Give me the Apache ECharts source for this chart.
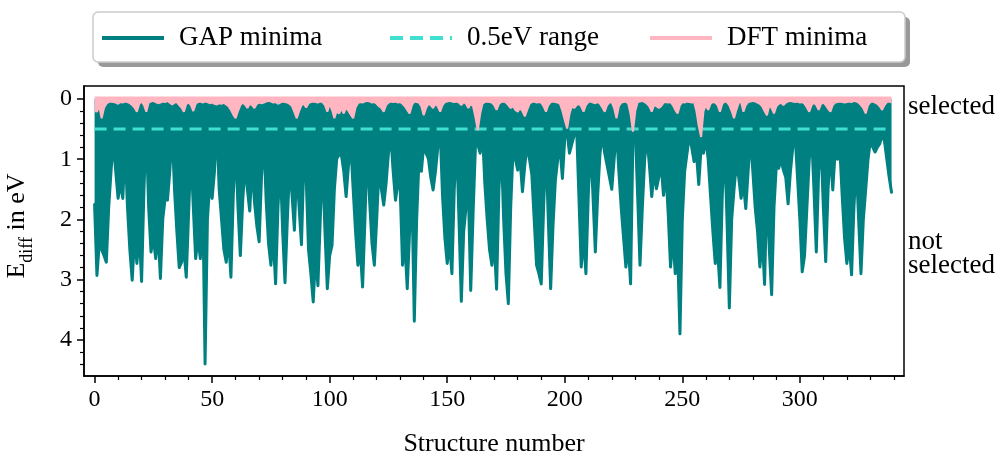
<!DOCTYPE html>
<html>
<head>
<meta charset="utf-8">
<script src="https://cdn.jsdelivr.net/npm/echarts@6/dist/echarts.min.js"></script>
<style>
html,body{margin:0;padding:0;background:#fff;}
#chart{width:1003px;height:454px;}
</style>
</head>
<body>
<div id="chart"></div>
<script>
// ---- data ----
const gapMinima = [
1.75,2.93,2.40,2.50,2.60,2.71,1.80,1.20,0.70,1.20,
1.65,1.40,1.65,0.80,1.80,2.50,3.01,2.30,2.73,2.20,
3.03,1.50,0.49,1.80,2.54,2.30,2.65,2.20,2.98,2.00,
1.65,1.68,1.20,0.52,1.50,2.20,2.80,2.71,2.50,2.96,
1.90,0.88,1.80,2.65,2.30,2.65,1.60,4.40,2.00,1.40,
1.65,1.20,0.40,1.50,2.00,2.50,2.71,2.30,2.96,1.60,
0.74,1.80,2.60,1.70,1.10,1.50,1.86,1.10,1.70,2.10,
2.37,1.30,0.63,1.70,2.40,2.76,2.30,3.07,1.80,1.07,
2.20,3.05,2.00,1.10,1.60,2.18,1.10,1.80,2.42,1.07,
1.30,2.50,2.90,3.37,2.60,3.10,2.00,1.00,2.20,3.15,
2.60,2.43,1.50,0.99,0.93,0.93,1.20,1.62,1.10,0.77,
1.50,2.20,2.76,2.50,3.12,2.00,0.79,1.70,2.40,2.76,
2.00,1.15,1.50,1.76,1.40,0.90,0.60,1.20,1.68,1.40,
1.50,2.76,2.40,3.15,2.20,1.54,3.69,2.00,1.00,1.20,
0.77,0.90,0.99,1.30,1.51,1.20,0.80,0.52,1.60,2.30,
2.73,2.40,2.90,1.50,0.68,2.00,3.36,2.20,1.80,1.54,
3.18,1.90,0.79,0.75,0.90,0.54,1.40,2.00,2.50,2.76,
2.40,3.16,1.50,0.77,2.00,2.90,3.40,1.80,0.85,1.00,
1.18,1.00,1.54,1.10,0.77,1.00,1.26,2.00,2.76,2.90,
3.07,1.80,0.77,2.00,3.15,2.10,1.35,1.00,0.82,1.32,
0.65,0.55,0.90,0.75,0.60,0.43,1.60,2.79,2.30,2.90,
1.60,0.74,1.60,2.54,1.60,0.90,0.60,0.90,1.10,1.30,
1.50,1.00,0.49,1.20,1.80,2.30,2.79,2.40,3.07,0.60,
0.50,1.60,2.76,1.80,1.00,0.63,1.10,1.62,1.20,1.49,
1.30,1.10,1.60,1.20,1.90,2.79,2.30,2.90,2.50,3.90,
2.00,1.20,0.90,0.60,0.80,1.04,0.90,1.42,0.80,0.90,
0.65,1.00,1.60,2.20,2.73,2.50,3.13,1.60,0.74,2.00,
3.47,2.00,1.50,1.07,1.30,1.65,1.40,1.82,1.20,0.63,
1.20,1.80,2.20,2.79,2.30,3.08,1.43,2.50,3.25,1.80,
1.10,1.15,1.00,1.18,1.30,1.74,1.20,0.80,0.60,1.30,
2.00,2.87,2.60,1.80,1.00,0.60,1.50,2.54,1.20,0.75,
1.80,2.70,1.50,0.85,1.51,0.88,1.00,0.82,1.60,2.30,
2.73,2.40,2.92,1.80,1.07,2.00,2.90,2.00,1.51,1.00,
0.68,0.80,0.88,0.80,0.74,0.60,0.70,1.00,1.30,1.55
];
const dftMinima = [
0.20,0.21,0.12,0.32,0.15,0.08,0.05,0.04,0.05,0.06,
0.08,0.05,0.06,0.04,0.05,0.07,0.10,0.14,0.21,0.08,
0.04,0.10,0.21,0.06,0.04,0.03,0.05,0.07,0.06,0.04,
0.05,0.03,0.06,0.09,0.06,0.05,0.10,0.14,0.21,0.08,
0.06,0.10,0.20,0.08,0.05,0.04,0.06,0.04,0.05,0.07,
0.06,0.08,0.09,0.07,0.08,0.06,0.09,0.12,0.18,0.26,
0.32,0.20,0.10,0.06,0.09,0.15,0.08,0.10,0.15,0.08,
0.06,0.07,0.06,0.04,0.03,0.04,0.06,0.05,0.08,0.06,
0.04,0.05,0.06,0.08,0.12,0.22,0.32,0.20,0.10,0.08,
0.14,0.07,0.05,0.04,0.05,0.06,0.04,0.05,0.10,0.21,
0.08,0.18,0.32,0.20,0.24,0.16,0.24,0.14,0.20,0.26,
0.32,0.14,0.07,0.05,0.06,0.04,0.03,0.04,0.06,0.05,
0.08,0.12,0.15,0.21,0.10,0.06,0.04,0.05,0.04,0.06,
0.05,0.08,0.12,0.18,0.24,0.10,0.04,0.05,0.06,0.12,
0.27,0.15,0.08,0.10,0.15,0.08,0.12,0.21,0.10,0.05,
0.04,0.03,0.04,0.05,0.04,0.06,0.10,0.05,0.08,0.15,
0.08,0.12,0.30,0.52,0.25,0.08,0.05,0.04,0.05,0.06,
0.10,0.18,0.08,0.05,0.04,0.06,0.10,0.15,0.12,0.18,
0.21,0.15,0.20,0.29,0.18,0.08,0.05,0.04,0.06,0.05,
0.06,0.12,0.21,0.10,0.05,0.04,0.05,0.06,0.08,0.20,
0.35,0.49,0.25,0.12,0.15,0.10,0.08,0.12,0.21,0.10,
0.05,0.04,0.06,0.07,0.05,0.08,0.14,0.21,0.10,0.06,
0.05,0.15,0.32,0.12,0.06,0.05,0.04,0.08,0.25,0.54,
0.20,0.05,0.04,0.03,0.05,0.08,0.12,0.21,0.10,0.12,
0.15,0.12,0.06,0.05,0.06,0.05,0.10,0.18,0.24,0.10,
0.05,0.06,0.04,0.05,0.06,0.05,0.20,0.45,0.63,0.20,
0.10,0.18,0.08,0.05,0.06,0.10,0.21,0.08,0.04,0.05,
0.10,0.20,0.32,0.18,0.06,0.05,0.21,0.10,0.05,0.04,
0.03,0.04,0.06,0.08,0.12,0.20,0.27,0.10,0.15,0.24,
0.12,0.08,0.06,0.10,0.06,0.04,0.03,0.04,0.05,0.04,
0.06,0.05,0.08,0.14,0.21,0.10,0.06,0.10,0.18,0.08,
0.06,0.10,0.16,0.21,0.10,0.06,0.05,0.04,0.05,0.06,
0.05,0.04,0.05,0.03,0.04,0.06,0.10,0.15,0.24,0.10,
0.05,0.04,0.06,0.08,0.12,0.18,0.10,0.05,0.04,0.06
];
const rangeValue = 0.5;
const xMajorTicks = [0, 50, 100, 150, 200, 250, 300];
const xMinorTicks = [10,20,30,40,60,70,80,90,110,120,130,140,160,170,180,190,210,220,230,240,260,270,280,290,310,320,330,340];
const yMajorTicks = [0, 1, 2, 3, 4];
const yMinorTicks = [0.2,0.4,0.6,0.8,1.2,1.4,1.6,1.8,2.2,2.4,2.6,2.8,3.2,3.4,3.6,3.8,4.2,4.4];
const seriesNames = ['GAP minima', '0.5eV range', 'DFT minima'];

// ---- chart ----
const FONT = 'Liberation Serif';
const TEAL = '#008080', TURQ = '#40E0D0', PINK = '#FFB6C1';
const chart = echarts.init(document.getElementById('chart'), null, {renderer: 'canvas'});
const gapData = gapMinima.map((v, i) => [i, v]);
const dftData = dftMinima.map((v, i) => [i, v]);
const lastX = gapMinima.length - 1;

const SOLID_ICON = 'path://M0,0H62V4H0Z';
const DASH_ICON = 'path://M0,0H13V4H0Z M20,0H33V4H20Z M40,0H53V4H40Z M60,0H62V4H60Z';

const legendCommon = {
  top: 24, padding: 0, itemWidth: 62, itemHeight: 4, z: 10,
  textStyle: {fontFamily: FONT, fontSize: 27, color: '#000', padding: [0, 0, 0, 10], lineHeight: 28},
  selectedMode: false
};

const mainLine = {show: true, onZero: false, lineStyle: {color: '#000', width: 1.5}};
const hiddenLine = {show: false, onZero: false};

chart.setOption({
  animation: false,
  backgroundColor: '#fff',
  grid: {left: 84, top: 86, right: 99, bottom: 78, show: true, borderColor: '#000', borderWidth: 1.5,
         backgroundColor: 'transparent', outerBoundsMode: 'none', containLabel: false},
  legend: [
    Object.assign({}, legendCommon, {left: 102, data: [{name: seriesNames[0], icon: SOLID_ICON, itemStyle: {color: TEAL}}]}),
    Object.assign({}, legendCommon, {left: 390, data: [{name: seriesNames[1], icon: DASH_ICON, itemStyle: {color: TURQ}}]}),
    Object.assign({}, legendCommon, {left: 650, data: [{name: seriesNames[2], icon: SOLID_ICON, itemStyle: {color: PINK}}]})
  ],
  xAxis: [
    {
      type: 'value', min: -4.5, max: 344.3, position: 'bottom',
      axisLine: mainLine, splitLine: {show: false},
      name: 'Structure number', nameLocation: 'middle', nameGap: 55,
      nameTextStyle: {fontFamily: FONT, fontSize: 26, color: '#000'},
      axisTick: {show: true, length: 7, lineStyle: {color: '#000', width: 1.5}, customValues: xMajorTicks},
      axisLabel: {fontFamily: FONT, fontSize: 24, color: '#000', margin: 12, customValues: xMajorTicks}
    },
    {
      type: 'value', min: -4.5, max: 344.3, position: 'bottom',
      axisLine: hiddenLine, splitLine: {show: false},
      axisTick: {show: true, length: 4, lineStyle: {color: '#000', width: 1.2}, customValues: xMinorTicks},
      axisLabel: {show: false}
    }
  ],
  yAxis: [
    {
      type: 'value', min: -0.216, max: 4.6, inverse: true, position: 'left',
      axisLine: mainLine, splitLine: {show: false},
      axisTick: {show: true, length: 7, lineStyle: {color: '#000', width: 1.5}, customValues: yMajorTicks},
      axisLabel: {fontFamily: FONT, fontSize: 24, color: '#000', margin: 12, customValues: yMajorTicks}
    },
    {
      type: 'value', min: -0.216, max: 4.6, inverse: true, position: 'left',
      axisLine: hiddenLine, splitLine: {show: false},
      axisTick: {show: true, length: 4, lineStyle: {color: '#000', width: 1.2}, customValues: yMinorTicks},
      axisLabel: {show: false}
    }
  ],
  graphic: [
    {type: 'rect', z: 1, shape: {x: 98, y: 17, width: 812, height: 50, r: 5}, style: {fill: 'rgba(0,0,0,0.4)'}},
    {type: 'rect', z: 2, shape: {x: 93, y: 12, width: 812, height: 50, r: 5}, style: {fill: '#fff', stroke: '#cccccc', lineWidth: 1.5}},
    {type: 'text', z: 5, x: 22, y: 226, rotation: Math.PI / 2,
      style: {
        text: '{e|E}{s|diff}{e| in eV}',
        align: 'center', verticalAlign: 'middle',
        rich: {
          e: {fontFamily: FONT, fontSize: 26, fill: '#000', padding: [0, 0, 10, 0], verticalAlign: 'middle'},
          s: {fontFamily: FONT, fontSize: 18, fill: '#000', padding: [10, 0, 0, 0], verticalAlign: 'middle'}
        }
      }},
    {type: 'text', z: 5, x: 908, y: 107, style: {text: 'selected', fontFamily: FONT, fontSize: 27, fill: '#000', verticalAlign: 'middle'}},
    {type: 'text', z: 5, x: 908, y: 242, style: {text: 'not', fontFamily: FONT, fontSize: 27, fill: '#000', verticalAlign: 'middle'}},
    {type: 'text', z: 5, x: 908, y: 266, style: {text: 'selected', fontFamily: FONT, fontSize: 27, fill: '#000', verticalAlign: 'middle'}}
  ],
  series: [
    {
      name: seriesNames[0], type: 'line', data: gapData, xAxisIndex: 0, yAxisIndex: 0,
      showSymbol: false, symbol: 'none', z: 2,
      lineStyle: {color: TEAL, width: 3, join: 'round', cap: 'round'},
      itemStyle: {color: TEAL},
      areaStyle: {color: TEAL, opacity: 1, origin: 0}
    },
    {
      name: seriesNames[1], type: 'line', data: [[0, rangeValue], [lastX, rangeValue]],
      xAxisIndex: 0, yAxisIndex: 0, showSymbol: false, symbol: 'none', z: 3,
      lineStyle: {color: TURQ, width: 3, type: [12, 7]},
      itemStyle: {color: TURQ}
    },
    {
      name: seriesNames[2], type: 'line', data: dftData, xAxisIndex: 0, yAxisIndex: 0,
      showSymbol: false, symbol: 'none', z: 4,
      lineStyle: {color: PINK, width: 2},
      itemStyle: {color: PINK},
      areaStyle: {color: PINK, opacity: 1, origin: -0.04}
    }
  ]
});
</script>
</body>
</html>
